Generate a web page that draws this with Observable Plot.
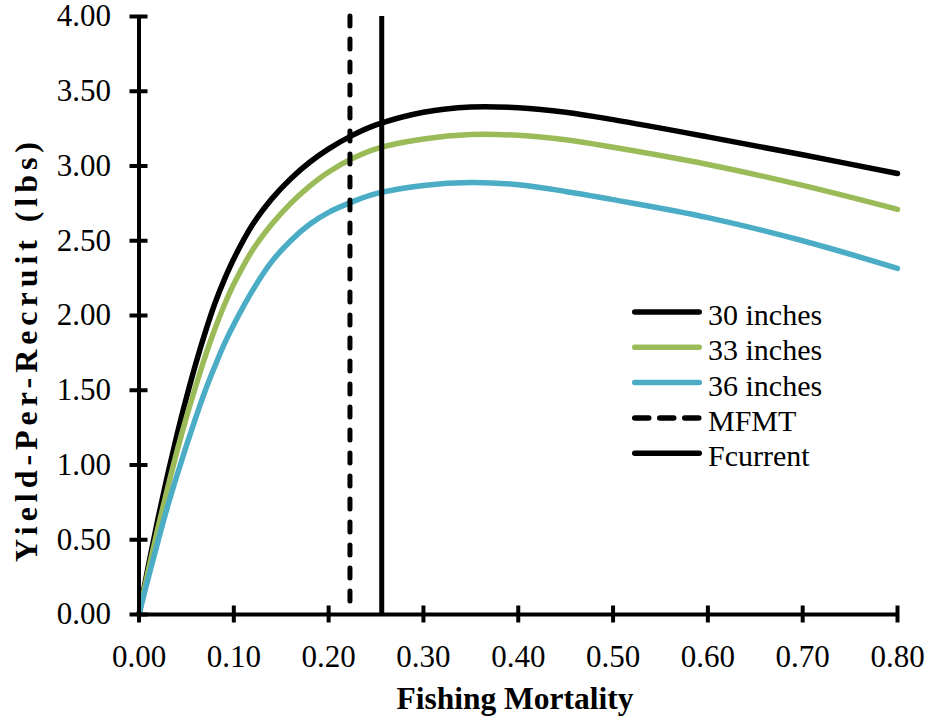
<!DOCTYPE html>
<html>
<head>
<meta charset="utf-8">
<script src="https://cdn.jsdelivr.net/npm/d3@7"></script>
<script src="https://cdn.jsdelivr.net/npm/@observablehq/plot@0.6"></script>
<style>
  html, body { margin: 0; padding: 0; background: #fff; }
  #chart { position: relative; width: 929px; height: 721px; }
</style>
</head>
<body>
<div id="chart"></div>
<script>
// ---- data ----
const fishingMortality = [0, 0.01, 0.02, 0.03, 0.04, 0.05, 0.06, 0.07, 0.08, 0.09, 0.10, 0.12, 0.14, 0.16, 0.18, 0.20, 0.225, 0.25, 0.30, 0.35, 0.40, 0.45, 0.50, 0.60, 0.70, 0.80];
const ypr30 = [0, 0.33, 0.64, 0.93, 1.20, 1.45, 1.68, 1.89, 2.08, 2.24, 2.38, 2.61, 2.78, 2.915, 3.025, 3.115, 3.205, 3.275, 3.36, 3.395, 3.39, 3.36, 3.31, 3.195, 3.075, 2.95];
const ypr33 = [0, 0.30, 0.58, 0.84, 1.09, 1.32, 1.53, 1.73, 1.91, 2.07, 2.21, 2.44, 2.61, 2.75, 2.865, 2.96, 3.05, 3.115, 3.18, 3.21, 3.205, 3.175, 3.125, 3.01, 2.87, 2.71];
const ypr36 = [0, 0.25, 0.49, 0.72, 0.93, 1.13, 1.32, 1.50, 1.66, 1.81, 1.94, 2.17, 2.36, 2.50, 2.61, 2.69, 2.76, 2.815, 2.87, 2.89, 2.875, 2.83, 2.775, 2.655, 2.50, 2.315];
const seriesNames = ["30 inches", "33 inches", "36 inches"];
const seriesColors = ["#000000", "#9BBB59", "#4BACC6"];
const MFMT = 0.2225;
const Fcurrent = 0.256;
const xTicks = [0, 0.1, 0.2, 0.3, 0.4, 0.5, 0.6, 0.7, 0.8];
const yTicks = [0, 0.5, 1, 1.5, 2, 2.5, 3, 3.5, 4];
const xTitle = "Fishing Mortality";
const yTitle = "Yield-Per-Recruit (lbs)";
const legendLabels = ["30 inches", "33 inches", "36 inches", "MFMT", "Fcurrent"];
const legendColors = ["#000000", "#9BBB59", "#4BACC6", "#000000", "#000000"];
const legendDashed = [false, false, false, true, false];

// ---- build table ----
const allSeries = [ypr30, ypr33, ypr36];
const rows = [];
allSeries.forEach((vals, si) => {
  vals.forEach((v, i) => rows.push({series: seriesNames[si], F: fishingMortality[i], Y: v}));
});

const FONT = "'Liberation Serif', 'Times New Roman', serif";
const fmt = d3.format(".2f");

const plot = Plot.plot({
  width: 929,
  height: 721,
  marginLeft: 138.5,
  marginRight: 32,
  marginTop: 16,
  marginBottom: 107,
  style: {fontFamily: FONT, fontSize: "31px", background: "#fff", color: "#000"},
  x: {domain: [0, 0.8]},
  y: {domain: [0, 4]},
  color: {domain: seriesNames, range: seriesColors},
  marks: [
    // data lines
    Plot.line(rows, {x: "F", y: "Y", z: "series", stroke: "series", strokeWidth: 5.5, curve: "catmull-rom", strokeLinejoin: "round"}),
    // reference lines
    Plot.ruleX([MFMT], {stroke: "#000", strokeWidth: 5, strokeDasharray: "10,13", strokeLinecap: "round"}),
    Plot.ruleX([Fcurrent], {stroke: "#000", strokeWidth: 5}),
    // axis lines
    Plot.ruleX([0], {stroke: "#000", strokeWidth: 4}),
    Plot.ruleY([0], {stroke: "#000", strokeWidth: 4}),
    // crossing ticks
    Plot.axisX({ticks: xTicks, tickSize: 17, dy: -8.5, text: null, strokeWidth: 4, label: null}),
    Plot.axisY({ticks: yTicks, tickSize: 18, dx: 9, text: null, strokeWidth: 4, label: null}),
    // tick labels
    Plot.axisX({ticks: xTicks, tickSize: 0, tickPadding: 30, tickFormat: fmt, label: null, fontSize: 31}),
    Plot.axisY({ticks: yTicks, tickSize: 0, tickPadding: 28, tickFormat: fmt, label: null, fontSize: 31})
  ]
});

const chart = document.getElementById("chart");
chart.appendChild(plot);

// axis titles and legend (annotation text)
const svg = d3.select(plot);
svg.append("text")
  .attr("x", 515).attr("y", 709)
  .attr("text-anchor", "middle")
  .attr("font-family", FONT).attr("font-size", 31.5).attr("font-weight", "bold")
  .attr("fill", "#000")
  .text(xTitle);
svg.append("text")
  .attr("transform", "translate(37,352) rotate(-90)")
  .attr("text-anchor", "middle")
  .attr("font-family", FONT).attr("font-size", 32).attr("font-weight", "bold")
  .attr("textLength", 420).attr("lengthAdjust", "spacing")
  .attr("fill", "#000")
  .text(yTitle);

const lg = svg.append("g").attr("transform", "translate(632,312)");
legendLabels.forEach((label, i) => {
  const g = lg.append("g").attr("transform", `translate(0,${i * 35.3})`);
  g.append("line").attr("x1", 2.75).attr("x2", 67.25).attr("y1", 0).attr("y2", 0)
    .attr("stroke", legendColors[i]).attr("stroke-width", 5.5)
    .attr("stroke-linecap", "round")
    .attr("stroke-dasharray", legendDashed[i] ? "14,11" : null);
  g.append("text").attr("x", 76).attr("y", 0).attr("dy", "0.43em")
    .attr("text-anchor", "start")
    .attr("font-family", FONT).attr("font-size", 30).attr("fill", "#000")
    .text(label);
});
</script>
</body>
</html>
